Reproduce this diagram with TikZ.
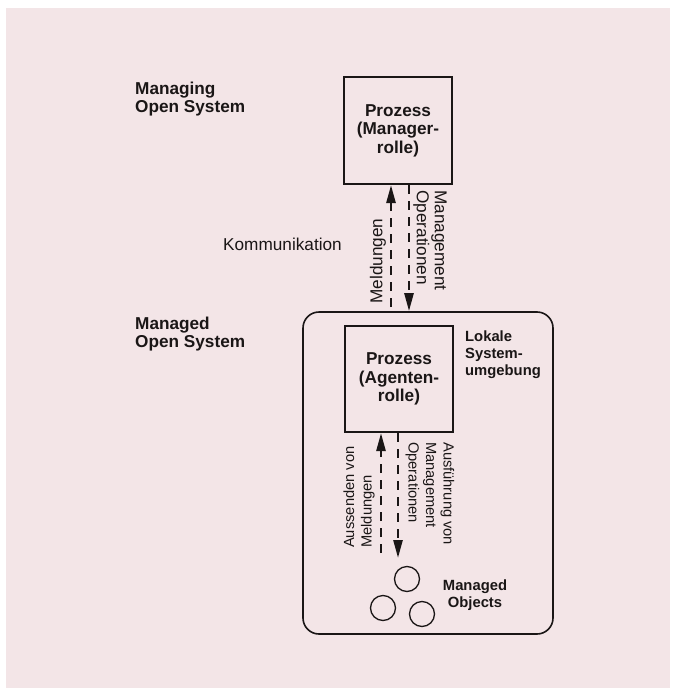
\documentclass[tikz,border=0pt]{standalone}
\usepackage{fontspec}
\setmainfont{Liberation Sans}
\usetikzlibrary{arrows.meta}
\definecolor{bgpink}{HTML}{F3E5E7}
\definecolor{ink}{HTML}{1A1616}
\begin{document}
\begin{tikzpicture}[x=1pt,y=-1pt,
  every node/.style={text=ink, font=\fontsize{17.2}{18}\selectfont},
  procbox/.style={draw=ink, line width=2pt, inner sep=0pt, align=center, font=\fontsize{17.2}{18.5}\selectfont\bfseries},
  lbl/.style={inner sep=0pt, align=left},
  slbl/.style={inner sep=0pt, align=left, font=\fontsize{14.7}{17.5}\selectfont},
  blbl/.style={inner sep=0pt, align=left, font=\fontsize{17.2}{18}\selectfont\bfseries},
  sblbl/.style={inner sep=0pt, align=left, font=\fontsize{14.8}{17}\selectfont\bfseries},
  flow/.style={draw=ink, line width=2.5pt, dash pattern=on 9pt off 7pt, -{Triangle[length=18pt,width=9pt]}},
  obj/.style={draw=ink, line width=1.3pt, circle, minimum size=25pt, inner sep=0pt}
]
\useasboundingbox (0,0) rectangle (674,693);
\fill[white] (0,0) rectangle (674,693);
\fill[bgpink] (6,8) rectangle (670,688);

% outer local environment
\node[draw=ink, line width=1.6pt, rounded corners=16pt, minimum width=250pt, minimum height=322pt, inner sep=0pt] (env) at (428,473) {};

% process boxes
\node[procbox, minimum width=108pt, minimum height=107pt] (mgr) at (398,130.5) {Prozess\\(Manager-\\rolle)};
\node[procbox, minimum width=108pt, minimum height=106pt] (agt) at (399,379) {Prozess\\(Agenten-\\rolle)};

% labels
\node[blbl, anchor=west] (managing) at (135,99) {Managing\\Open System};
\node[blbl, anchor=west] (managed) at (135,334) {Managed\\Open System};
\node[lbl, anchor=west] (komm) at (223,244) {Kommunikation};
\node[sblbl, anchor=west] (lokal) at (465,355) {Lokale\\System-\\umgebung};
\node[sblbl, align=center] (mobj) at (475,595) {Managed\\Objects};

% top flows
\coordinate (meldStart) at (391,307);
\coordinate (mopStart) at (409,185);
\draw[flow] (meldStart) -- (meldStart |- mgr.south);
\draw[flow] (mopStart) -- (mopStart |- env.north);
\node[lbl, rotate=90] (meld) at (378,261) {Meldungen};
\node[lbl, rotate=-90, anchor=west] (mop) at (430,190) {Management\\Operationen};

% lower flows
\coordinate (ausStart) at (381,553);
\coordinate (ausfStart) at (398,433);
\coordinate (ausfEnd) at (398,558);
\draw[flow] (ausStart) -- (ausStart |- agt.south);
\draw[flow] (ausfStart) -- (ausfEnd);
\node[slbl, rotate=90, anchor=west] (aus) at (359,548) {Aussenden von\\Meldungen};
\node[slbl, rotate=-90, anchor=west] (ausf) at (430,442) {Ausführung von\\Management\\Operationen};

% managed objects
\node[obj] (o1) at (407,579) {};
\node[obj] (o2) at (383,608) {};
\node[obj] (o3) at (422,614) {};
\end{tikzpicture}
\end{document}
